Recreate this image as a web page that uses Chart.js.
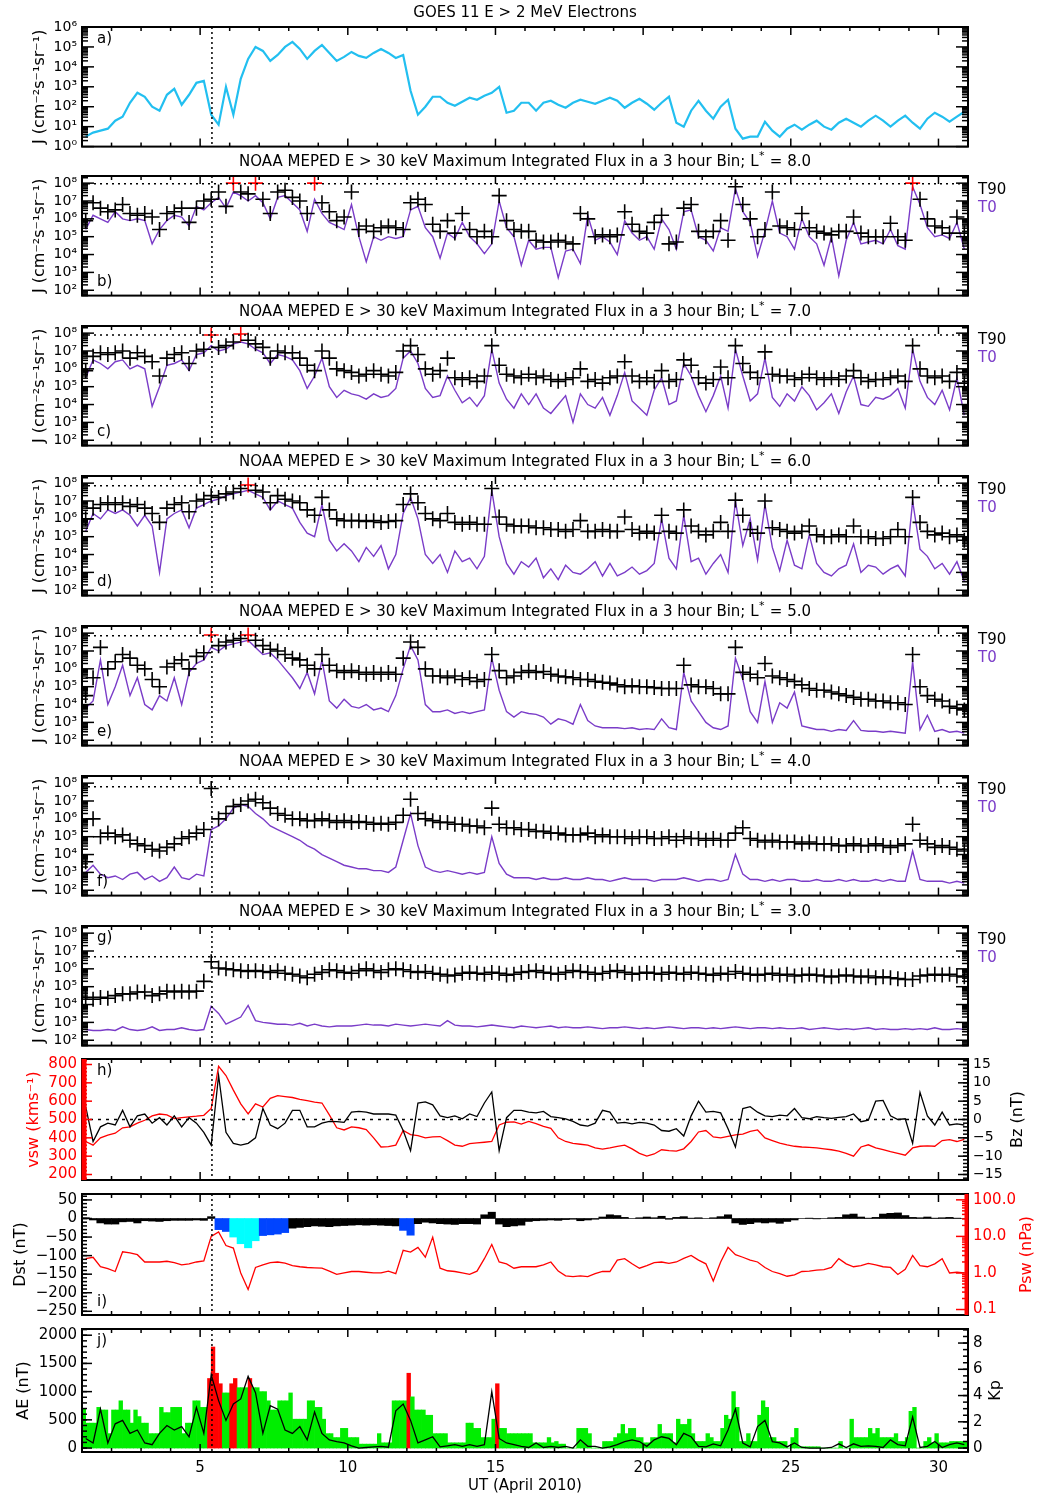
<!DOCTYPE html>
<html>
<head>
<meta charset="utf-8">
<title>GOES / NOAA MEPED electrons, April 2010</title>
<script src="https://cdn.jsdelivr.net/npm/chart.js@4.4.1/dist/chart.umd.min.js"></script>
<style>
  body { margin: 0; background: #fff; }
  #wrap { position: relative; width: 1044px; height: 1496px; }
  #wrap canvas { position: absolute; left: 0; }
</style>
</head>
<body>
<div id="wrap"></div>
<script>
// ---- values (6-hour samples, day 1.125 ... 30.875) ----
const sscDay = 5.4;
const xTickDays = [5, 10, 15, 20, 25, 30];

// GOES 11 >2 MeV, log10 flux
const goesLog = [
  0.5,0.7,0.8,0.9, 1.3,1.5,2.2,2.7, 2.5,2.0,1.8,2.6, 2.9,2.1,2.6,3.2, 3.3,1.6,1.1,3.0,
  1.6,3.4,4.4,5.0, 4.8,4.3,4.6,5.0, 5.25,4.9,4.4,4.8, 5.1,4.7,4.3,4.5, 4.75,4.55,4.45,4.7,
  4.9,4.7,4.45,4.6, 2.8,1.6,2.0,2.5, 2.5,2.2,2.05,2.25, 2.45,2.35,2.55,2.7, 3.0,1.7,1.8,2.2,
  2.2,1.8,2.2,2.3, 2.1,1.95,2.2,2.35, 2.25,2.15,2.3,2.45, 2.3,1.95,2.2,2.4, 2.15,1.85,2.2,2.5,
  1.2,1.0,1.8,2.3, 1.8,1.4,2.0,2.35, 0.9,0.4,0.5,0.5, 1.25,0.8,0.5,0.9, 1.1,0.85,1.1,1.3,
  1.0,0.85,1.2,1.4, 1.2,1.0,1.3,1.55, 1.3,1.0,1.3,1.55, 1.2,0.9,1.4,1.7, 1.5,1.25,1.5,1.75
];

// MEPED >30 keV, log10 flux: T90 (crosses) and T0 (line), per L*
const t90L8 = [
  5.9,6.9,6.6,6.4, 6.5,6.8,6.3,6.2, 6.3,6.1,5.4,6.3, 6.4,6.6,5.8,6.6, 7.0,7.1,7.5,6.7,
  8.0,7.5,7.4,8.0, 7.1,6.3,7.5,7.6, 7.2,7.0,6.3,8.0, 6.9,6.4,5.9,6.1, 7.5,5.4,5.6,5.3,
  5.5,5.6,5.5,5.4, 6.9,7.1,6.8,5.7, 5.3,5.9,5.2,6.3, 5.4,5.0,5.3,5.0, 7.3,5.9,5.4,5.3,
  5.3,4.8,4.7,4.7, 4.8,4.7,4.6,6.3, 6.0,5.0,5.1,5.0, 5.1,6.4,5.7,5.3, 5.2,5.8,6.2,4.6,
  4.7,6.6,6.8,5.3, 5.0,5.3,5.9,4.8, 7.8,6.8,6.0,5.0, 5.4,7.5,5.6,5.5, 5.4,6.3,5.5,5.3,
  5.2,5.1,5.3,5.3, 6.1,5.2,5.0,5.0, 5.0,5.75,5.0,4.8, 8.0,7.1,6.0,5.6, 5.5,5.2,6.1,5.2
];
const t0L8 = [
  5.4,6.2,6.0,5.8, 6.4,6.0,5.9,6.0, 5.9,4.6,5.4,5.9, 6.2,6.1,5.6,6.7, 6.5,6.9,7.2,6.6,
  7.5,7.3,7.0,7.3, 6.9,6.0,7.2,7.3, 6.9,6.5,5.3,7.1, 6.3,5.8,5.6,5.4, 6.8,5.0,3.6,5.0,
  4.8,5.0,4.9,5.0, 6.5,6.7,5.5,5.0, 3.8,5.2,4.9,5.8, 5.0,4.6,4.05,4.6, 7.0,5.5,5.0,3.4,
  4.8,4.3,4.4,4.4, 2.7,4.2,4.3,3.5, 6.2,4.8,5.0,4.7, 4.0,5.9,5.2,4.8, 5.0,4.3,6.0,5.4,
  4.3,6.4,6.5,5.0, 4.8,4.2,5.5,5.3, 7.7,6.4,5.8,3.9, 5.3,7.0,5.2,5.0, 4.3,6.0,5.0,4.6,
  3.4,5.0,2.8,4.8, 5.8,4.6,4.7,4.8, 4.6,5.4,4.5,4.3, 7.8,6.8,5.5,5.0, 5.1,4.9,5.8,4.3
];
const t90L7 = [
  5.9,6.7,6.9,6.8, 6.9,7.0,6.6,6.9, 6.7,6.4,5.6,6.6, 6.8,6.9,6.3,7.0, 7.1,7.9,7.2,7.3,
  7.5,7.95,7.6,7.4, 7.2,6.6,7.0,6.9, 6.9,6.6,6.2,5.9, 7.0,6.6,6.0,5.9, 5.8,5.6,5.7,5.9,
  5.7,5.6,5.8,7.0, 7.3,6.8,6.0,5.7, 5.9,6.6,5.5,5.4, 5.5,5.3,5.6,7.3, 6.2,5.7,5.6,5.5,
  5.7,5.5,5.6,5.4, 5.3,5.4,5.5,6.0, 5.3,5.4,5.2,5.5, 5.6,6.4,5.6,5.3, 5.5,5.3,5.9,5.3,
  5.4,6.5,6.2,5.5, 5.2,5.4,6.1,5.5, 7.3,6.3,5.8,5.5, 6.95,5.7,5.6,5.6, 5.4,5.5,5.7,5.5,
  5.4,5.5,5.4,5.6, 5.9,5.5,5.3,5.4, 5.4,5.5,5.6,5.3, 7.3,6.0,5.6,5.5, 5.6,5.3,5.8,5.2
];
const t0L7 = [
  5.5,6.5,6.3,6.0, 6.4,6.5,6.0,6.2, 6.0,3.9,5.0,6.2, 6.3,6.5,5.9,6.8, 6.9,7.3,7.0,7.1,
  7.4,7.5,7.4,7.1, 6.9,6.3,6.8,6.7, 6.5,5.9,4.9,5.6, 6.6,5.0,4.4,4.8, 4.6,4.5,4.3,4.6,
  4.4,4.5,4.9,6.6, 7.0,6.3,4.9,4.4, 4.5,5.6,4.8,4.1, 4.4,3.9,4.5,7.1, 5.2,4.3,3.8,4.6,
  4.0,4.6,3.8,3.5, 4.0,4.5,3.0,4.6, 4.0,3.8,4.4,3.4, 4.5,5.8,4.2,3.8, 3.4,4.8,5.5,4.0,
  4.2,6.3,5.6,4.5, 3.6,4.5,5.6,3.8, 7.1,5.6,4.2,4.6, 6.6,4.4,3.9,4.6, 4.2,5.0,4.5,3.7,
  4.1,4.6,3.5,4.7, 5.6,4.0,3.9,4.4, 4.3,4.5,4.9,3.8, 7.1,5.3,4.4,4.0, 4.8,3.7,5.5,3.4
];
const t90L6 = [
  6.0,6.6,6.8,6.9, 6.8,6.9,6.7,6.8, 6.6,6.3,5.8,6.6, 6.8,6.9,6.4,7.0, 7.1,7.3,7.2,7.4,
  7.5,7.7,7.9,7.6, 7.5,6.9,7.3,7.1, 7.0,6.9,6.5,6.2, 7.2,6.5,6.0,5.9, 5.9,5.9,5.85,5.9,
  5.8,5.85,5.9,6.8, 7.4,6.9,6.3,6.0, 5.9,6.3,5.8,5.7, 5.8,5.7,5.7,7.7, 6.1,5.7,5.6,5.6,
  5.6,5.5,5.5,5.4, 5.4,5.3,5.4,5.9, 5.3,5.3,5.4,5.3, 5.3,6.1,5.4,5.2, 5.3,5.2,6.2,5.3,
  5.2,6.5,5.6,5.3, 5.1,5.3,5.8,5.3, 7.05,6.2,5.4,5.2, 7.0,5.5,5.4,5.3, 5.2,5.3,5.6,5.1,
  5.0,5.0,5.1,5.0, 5.6,5.0,5.0,4.9, 4.9,5.0,5.4,5.0, 7.2,5.8,5.3,5.1, 5.2,5.0,5.1,4.8
];
const t0L6 = [
  5.3,6.3,6.0,6.5, 6.3,6.5,6.2,5.6, 6.2,5.6,3.0,6.0, 6.3,6.5,5.5,6.6, 6.8,7.0,7.1,7.3,
  7.4,7.5,7.6,7.4, 7.2,6.5,7.0,6.8, 6.6,5.8,5.2,5.0, 6.8,4.8,4.2,4.6, 4.2,3.6,4.4,3.9,
  4.5,3.2,4.0,6.3, 7.2,6.0,4.0,3.5, 4.0,3.0,4.2,3.6, 3.8,3.2,3.9,7.6, 5.0,3.5,2.9,3.6,
  3.3,3.8,2.7,3.2, 2.6,3.4,3.0,2.9, 3.2,3.6,2.8,3.5, 2.8,3.0,3.3,2.9, 3.1,3.5,6.0,3.8,
  3.2,6.2,3.6,3.8, 2.9,3.5,4.0,3.0, 7.0,4.5,6.0,3.7, 6.8,4.4,3.1,4.8, 3.4,3.2,5.1,3.5,
  3.0,2.8,3.2,3.4, 4.6,3.0,3.4,3.3, 2.9,3.2,3.4,2.8, 7.0,4.3,3.9,3.2, 3.5,2.9,3.6,2.5
];
const t90L5 = [
  4.5,5.5,7.2,6.0, 6.4,6.8,6.6,6.2, 6.0,5.4,5.0,6.1, 6.3,6.5,6.0,6.7, 6.9,7.9,7.3,7.5,
  7.6,7.7,7.9,7.6, 7.3,7.1,7.0,6.8, 6.6,6.5,6.2,6.0, 6.8,6.2,5.9,5.8, 5.9,5.8,5.7,5.8,
  5.7,5.8,5.7,6.6, 7.5,7.2,6.0,5.6, 5.6,5.5,5.6,5.4, 5.5,5.3,5.4,6.8, 5.9,5.5,5.6,5.8,
  5.9,5.8,5.85,5.7, 5.6,5.55,5.5,5.4, 5.4,5.3,5.25,5.2, 5.1,5.0,5.05,5.0, 5.0,4.95,4.9,4.9,
  4.9,6.2,5.1,5.0, 5.0,4.9,4.6,4.6, 7.2,5.8,5.7,5.5, 6.3,5.6,5.5,5.4, 5.3,5.1,4.9,4.8,
  4.8,4.7,4.6,4.5, 4.4,4.3,4.3,4.2, 4.2,4.1,4.1,4.0, 6.8,5.0,4.5,4.3, 4.2,3.9,3.8,3.7
];
const t0L5 = [
  3.8,4.2,6.5,4.0, 5.0,6.2,4.5,5.5, 4.0,3.7,4.5,4.2, 5.5,4.0,5.8,6.3, 6.5,7.2,7.0,7.3,
  7.4,7.5,7.6,7.2, 6.8,6.9,6.5,6.0, 5.5,4.9,5.8,4.6, 6.5,4.2,3.8,4.3, 3.9,3.8,4.0,3.7,
  3.8,3.6,4.5,6.0, 7.3,6.5,4.0,3.6, 3.6,3.7,3.5,3.6, 3.5,3.6,3.7,6.6, 4.8,3.6,3.3,3.6,
  3.5,3.45,3.3,2.9, 3.2,3.1,2.9,4.0, 3.1,2.8,2.7,2.7, 2.7,2.65,2.7,2.6, 2.65,2.6,3.2,2.7,
  2.6,5.8,4.2,3.6, 3.0,2.7,2.6,2.8, 6.6,5.4,3.6,3.0, 5.3,3.0,4.1,3.8, 4.7,2.8,2.7,2.6,
  2.6,2.5,2.6,2.55, 3.1,2.55,2.5,2.5, 2.45,2.5,2.45,2.4, 6.4,2.6,3.4,2.5, 2.6,2.45,2.5,2.4
];
const t90L4 = [
  3.6,6.0,5.0,5.2, 5.0,5.1,4.8,4.6, 4.5,4.3,4.2,4.4, 4.6,4.9,5.0,5.2, 5.4,7.7,6.0,6.3,
  6.7,6.8,7.0,7.1, 6.9,6.6,6.3,6.2, 6.0,6.0,5.9,5.9, 6.0,5.9,5.8,5.9, 5.8,5.85,5.8,5.7,
  5.75,5.7,5.8,6.2, 7.1,6.3,6.0,5.9, 5.8,5.8,5.7,5.7, 5.6,5.6,5.5,6.6, 5.7,5.5,5.5,5.4,
  5.4,5.3,5.3,5.2, 5.2,5.1,5.1,5.1, 5.2,5.0,5.1,5.0, 5.0,5.0,4.9,5.0, 5.0,4.9,4.9,5.0,
  4.8,5.0,4.9,4.9, 4.8,4.9,4.8,4.8, 5.2,5.5,4.9,4.8, 4.7,4.8,4.7,4.7, 4.7,4.6,4.7,4.6,
  4.6,4.6,4.5,4.5, 4.6,4.5,4.5,4.6, 4.5,4.4,4.5,4.6, 5.7,4.8,4.6,4.4, 4.5,4.4,4.3,4.2
];
const t0L4 = [
  3.0,3.4,2.9,2.7, 2.8,2.6,2.9,3.0, 2.6,2.8,2.5,2.7, 3.3,2.7,2.6,2.9, 2.8,5.4,5.6,6.0,
  6.6,6.8,6.7,6.3, 6.0,5.6,5.4,5.2, 5.0,4.8,4.5,4.3, 4.0,3.8,3.6,3.4, 3.3,3.2,3.2,3.1,
  3.1,3.0,3.3,4.8, 6.3,4.5,3.3,3.1, 3.0,3.1,3.0,2.9, 3.0,2.9,3.0,5.0, 3.5,2.9,2.7,2.7,
  2.7,2.6,2.7,2.6, 2.6,2.7,2.6,2.6, 2.7,2.6,2.6,2.5, 2.6,2.7,2.6,2.6, 2.6,2.5,2.6,2.6,
  2.6,2.7,2.6,2.5, 2.6,2.6,2.5,2.6, 4.0,2.9,2.6,2.6, 2.5,2.6,2.5,2.6, 2.6,2.5,2.5,2.6,
  2.5,2.5,2.6,2.5, 2.6,2.5,2.5,2.6, 2.5,2.6,2.5,2.5, 4.2,2.6,2.5,2.5, 2.5,2.4,2.5,2.4
];
const t90L3 = [
  4.4,4.3,4.4,4.35, 4.5,4.6,4.6,4.7, 4.7,4.5,4.6,4.75, 4.7,4.75,4.7,4.75, 5.3,6.4,6.05,6.0,
  5.95,5.9,5.85,5.9, 5.85,5.8,5.9,5.75, 5.7,5.6,5.5,5.7, 5.8,5.95,5.9,5.8, 5.75,5.9,6.0,5.9,
  5.8,5.95,6.0,5.95, 5.85,5.8,5.85,5.75, 5.7,5.6,5.65,5.75, 5.8,5.75,5.7,5.8, 5.75,5.65,5.7,5.8,
  5.85,5.9,5.8,5.75, 5.7,5.8,5.9,5.85, 5.8,5.7,5.75,5.85, 5.9,5.8,5.7,5.75, 5.8,5.75,5.7,5.8,
  5.75,5.7,5.8,5.75, 5.7,5.65,5.75,5.7, 5.85,5.75,5.7,5.65, 5.7,5.75,5.65,5.7, 5.6,5.65,5.7,5.65,
  5.6,5.55,5.6,5.65, 5.6,5.55,5.6,5.5, 5.55,5.5,5.45,5.4, 5.4,5.6,5.65,5.7, 5.65,5.7,5.6,5.55
];
const t0L3 = [
  2.6,2.55,2.55,2.6, 2.55,2.75,2.6,2.55, 2.6,2.75,2.55,2.6, 2.6,2.7,2.6,2.55, 2.6,3.9,3.5,2.9,
  3.1,3.3,3.95,3.1, 3.0,2.95,2.9,2.9, 2.85,2.95,2.8,2.9, 2.8,2.75,2.8,2.8, 2.8,2.85,2.9,2.85,
  2.85,2.8,2.9,2.85, 2.8,2.85,2.9,2.85, 2.8,3.1,2.85,2.8, 2.8,2.75,2.8,2.85, 2.8,2.75,2.7,2.8,
  2.75,2.7,2.75,2.8, 2.7,2.75,2.7,2.7, 2.75,2.7,2.65,2.7, 2.7,2.75,2.7,2.65, 2.7,2.65,2.7,2.75,
  2.7,2.65,2.7,2.7, 2.65,2.7,2.65,2.7, 2.75,2.7,2.65,2.7, 2.7,2.65,2.7,2.65, 2.65,2.7,2.6,2.65,
  2.7,2.65,2.6,2.65, 2.6,2.65,2.7,2.6, 2.65,2.6,2.6,2.65, 2.6,2.65,2.6,2.7, 2.6,2.6,2.65,2.6
];
// saturation level (log10) shown as the dotted line, per L* = 8,7,6,5,4,3
const satLog = [7.96, 7.9, 7.85, 7.85, 7.8, 6.68];

// solar wind speed (km/s) and IMF Bz (nT)
const vswKms = [
  380,360,400,415, 425,455,460,480, 496,520,530,525, 505,510,514,518, 523,560,790,740,
  660,585,530,585, 568,615,630,625, 620,610,603,595, 590,525,455,443, 460,455,445,400,
  350,352,360,440, 418,412,400,405, 407,385,360,354, 368,372,376,380, 470,485,487,475,
  490,478,462,452, 400,380,370,365, 360,345,338,345, 354,360,340,315, 300,312,335,330,
  327,340,380,432, 440,405,400,408, 416,420,435,443, 400,385,371,362, 354,350,348,345,
  340,335,327,315, 300,350,362,345, 336,325,315,305, 345,354,356,354, 385,390,380,392
];
const bzNT = [
  3.5,-6.0,-2.0,-1.0, -1.5,2.5,-2.0,1.0, 1.5,-1.0,0.5,-1.5, 1.0,-2.0,0.5,-1.0, -3.5,-7.0,12.0,-3.5,
  -6.5,-7.0,-6.5,-5.0, 3.0,-1.5,-2.5,-1.0, 2.5,2.5,-2.0,-2.0, -1.0,-0.5,-0.6,-0.8, 2.0,2.2,2.0,1.5,
  1.5,1.5,1.2,-3.0, -8.5,4.5,4.8,4.0, 1.0,0.5,1.0,0.2, 1.5,0.8,4.5,7.5, -8.5,0.5,2.5,2.5,
  2.0,1.8,2.2,0.8, 0.5,0.2,-0.5,-1.5, -1.8,-1.0,2.5,2.0, -1.0,-0.8,-1.2,-0.8, -1.0,-1.5,-3.0,-3.2,
  -2.5,-4.5,1.0,5.0, 2.0,2.2,1.8,-2.5, -7.5,3.0,3.5,2.0, 1.0,0.8,1.2,1.0, 3.0,0.5,0.2,0.8,
  0.5,0.3,0.6,0.8, 1.5,-0.6,-0.2,5.0, 5.2,1.0,0.0,0.2, -6.5,7.4,1.0,-1.5, 2.0,-1.5,-1.2,-1.5
];

// Dst (nT) and solar wind dynamic pressure (log10 nPa)
const dstNT = [
  2,-4,-12,-15, -15,-9,-8,-12, -6,-7,-8,-6, -5,-5,-5,-4, -5,5,-30,-35,
  -50,-68,-79,-60, -46,-44,-42,-38, -26,-24,-22,-20, -21,-22,-20,-19, -18,-17,-18,-17,
  -18,-19,-20,-32, -45,-14,-10,-12, -14,-15,-16,-14, -14,-15,10,17, -15,-22,-20,-18,
  -8,-6,-5,-4, -5,-3,-2,-6, -4,-2,4,10, 8,3,0,2, 4,2,6,-2,
  3,5,1,2, 0,2,5,10, -12,-16,-14,-10, -12,-10,-13,-8, -4,0,1,-1,
  0,2,3,10, 12,4,1,3, 12,14,15,8, 3,2,4,1, 2,3,1,0
];
const stormBlueDays = [[5.5, 6.0], [7.0, 8.0], [11.75, 12.25]];
const stormCyanDays = [[6.0, 7.0]];
const pswLog = [
  0.39,0.43,0.17,0.12, 0.04,0.58,0.55,0.50, 0.30,0.30,0.30,0.32, 0.28,0.22,0.25,0.30, 0.33,1.00,1.12,0.75,
  0.68,0.00,-0.45,0.15, 0.22,0.28,0.30,0.27, 0.20,0.17,0.15,0.14, 0.13,0.05,-0.04,0.00, 0.04,0.04,0.02,0.00,
  0.00,0.05,-0.02,0.62, 0.57,0.70,0.43,0.98, 0.13,0.06,0.04,0.00, -0.04,0.05,0.39,0.78, 0.30,0.25,0.13,0.17,
  0.17,0.17,0.22,0.30, 0.05,-0.08,-0.10,-0.08, -0.10,-0.02,0.04,0.04, 0.35,0.39,0.25,0.13, 0.20,0.28,0.30,0.26,
  0.30,0.40,0.48,0.35, 0.25,-0.22,0.30,0.70, 0.50,0.43,0.35,0.30, 0.15,0.04,-0.02,-0.09, -0.05,0.04,0.05,0.08,
  0.09,0.15,0.39,0.25, 0.17,0.20,0.26,0.22, 0.17,0.15,-0.04,0.10, 0.48,0.20,0.17,0.25, 0.39,0.00,0.02,0.00
];

// AE (nT, 6-hour samples) and Kp (3-hour bins)
const aeNT = [
  170,90,690,90, 430,490,260,320, 90,60,260,400, 320,380,200,720, 260,1300,840,490,
  780,870,1270,980, 260,750,690,320, 260,380,145,640, 260,145,115,90, 40,0,10,20,
  30,15,660,780, 490,90,145,200, 20,40,60,30, 60,30,60,1000, 170,90,60,30,
  10,90,10,30, 10,30,0,145, 30,30,0,20, 60,115,145,115, 30,145,200,170,
  60,260,200,30, 20,75,40,320, 690,90,20,380, 490,115,90,20, 90,10,0,0,
  0,10,75,10, 75,30,40,30, 10,145,60,40, 550,10,30,115, 10,60,90,60
];
const kpIndex = [
  3.0,1.9,1.9,1.9,3.1,2.9,2.9,1.1,  2.9,2.9,3.6,2.9,2.9,1.9,2.9,2.4,  1.9,1.9,1.1,1.1,1.1,3.1,2.7,2.7,
  3.1,3.1,3.1,1.1,1.9,1.9,3.6,3.6,  3.1,3.1,5.3,7.7,5.7,4.9,4.2,4.2,  4.9,5.3,4.6,4.6,4.6,5.3,4.6,4.6,
  4.3,4.3,3.6,2.9,2.9,3.6,3.6,3.6,  4.2,2.2,2.2,2.2,2.2,3.6,3.6,3.1,  3.1,2.2,1.1,1.1,0.8,0.8,1.5,1.5,
  0.8,0.8,0.8,0.3,0.3,0.3,0.3,0.3,  1.1,0.4,0.4,0.4,3.6,3.6,3.6,3.6,  5.7,3.9,2.9,2.9,2.9,2.5,2.5,1.1,
  1.1,1.1,1.1,0.4,0.4,0.4,0.4,0.4,  1.9,1.9,1.5,1.5,0.8,0.8,0.8,2.2,  4.9,1.5,1.5,1.1,1.1,1.1,1.1,1.1,
  1.1,1.1,0.4,0.4,0.4,0.4,0.8,0.4,  0.5,0.3,0.3,0,0,0,1.5,1.5,        1.5,1.1,0,0,0,0.5,0.5,0.5,
  0.8,1.1,1.8,1.1,1.5,1.5,0.8,0.8,  0.4,0.4,0.8,0.8,1.8,1.1,1.1,1.1,  0.4,2.2,1.8,1.8,2.2,1.1,0.5,0.5,
  0.5,1.1,0.8,0.5,0.5,1.5,2.5,2.2,  4.3,3.1,0.5,0.5,1.1,0.5,0.5,2.5,  3.6,3.1,0.8,0.8,0.5,0.5,0.5,0,
  0.8,1.5,0.1,0.1,0.1,0.1,0.1,0.1,  0,0,0,0,0,0.5,0,0,                2.2,0.8,0.8,0.8,0.8,1.5,1.1,1.5,
  0.8,0.8,0.8,0.8,1.1,0.5,0.5,0.8,  2.8,3.1,0,0,0.5,0.8,0.4,1.1,      0.4,0.4,0.4,0.5,0.5,0.5,0.5,0.5
];

// tick labels
const goesTickExps = [0, 1, 2, 3, 4, 5, 6];
const fluxTickExps = [2, 3, 4, 5, 6, 7, 8];
const vswTicks = [200, 300, 400, 500, 600, 700, 800];
const bzTicks = [-15, -10, -5, 0, 5, 10, 15];
const dstTicks = [-250, -200, -150, -100, -50, 0, 50];
const pswTicks = [0.1, 1, 10, 100];
const aeTicks = [0, 500, 1000, 1500, 2000];
const kpTicks = [0, 2, 4, 6, 8];

// ---- drawing ----
const FONT = '"DejaVu Sans", sans-serif';
Chart.defaults.font.family = FONT;
Chart.defaults.font.size = 14;
Chart.defaults.color = '#000';

const RED = '#ff0000', PURPLE = '#7a3cc8', SKY = '#22bff0', GREEN = '#00ee00', BLUE = '#0044ff', CYAN = '#00ffff';
const J_LABEL = 'J (cm\u207B\u00B2s\u207B\u00B9sr\u207B\u00B9)';

const t6h = Array.from({length: 120}, (_, i) => 1.125 + i / 4);
const t3h = Array.from({length: 240}, (_, i) => 1.0625 + i / 8);
const exp10 = v => Math.pow(10, v);
const pts = (ys, xs = t6h, f = v => v) => ys.map((y, i) => ({x: xs[i], y: f(y)}));
const sup = n => String(n).replace(/[-0-9]/g, c => '\u207B\u2070\u00B9\u00B2\u00B3\u2074\u2075\u2076\u2077\u2078\u2079'['-0123456789'.indexOf(c)]);
const minus = v => v < 0 ? '\u2212' + (-v) : String(v);
const steps = (a, b, s) => { const r = []; for (let v = a; v <= b + 1e-9; v += s) r.push(+v.toFixed(6)); return r; };
const logMinor = (e0, e1) => { const r = []; for (let e = e0; e <= e1; e++) for (let k = 2; k <= 9; k++) r.push(k * Math.pow(10, e)); return r; };
const inDays = (d, list) => list.some(([a, b]) => d >= a && d < b);

function logTicks(axis, e0, e1, color) {
  const major = steps(e0, e1, 1).map(exp10), minor = logMinor(e0 - 1, e1);
  return ['left', 'right'].map(side => ({axis, side, major, minor, majLen: 12, minLen: 6, color}));
}
function linTicks(axis, side, major, minorStep, color) {
  return {axis, side, major, minor: steps(major[0] - minorStep * 10, major[major.length - 1] + minorStep * 10, minorStep), majLen: 10, minLen: 5, color};
}

const frame = {
  id: 'frame',
  afterDraw(chart, args, o) {
    const {ctx, chartArea: a, scales} = chart;
    const X = scales.x;
    const seg = (x1, y1, x2, y2) => { ctx.beginPath(); ctx.moveTo(x1, y1); ctx.lineTo(x2, y2); ctx.stroke(); };
    ctx.save();
    ctx.strokeStyle = '#000';
    ctx.lineWidth = 1.5;
    ctx.setLineDash([2, 3]);
    const xs = X.getPixelForValue(sscDay);
    seg(xs, a.top, xs, a.bottom);
    (o.hlines || []).forEach(h => {
      ctx.setLineDash(h.dash);
      const y = scales[h.axis].getPixelForValue(h.value);
      seg(a.left, y, a.right, y);
    });
    ctx.setLineDash([]);
    for (let d = 1; d <= 31; d++) {
      const x = X.getPixelForValue(d), L = xTickDays.includes(d) ? 8 : 4;
      seg(x, a.top, x, a.top + L);
      seg(x, a.bottom, x, a.bottom - L);
    }
    (o.yTicks || []).forEach(t => {
      const s = scales[t.axis];
      const x0 = t.side === 'left' ? a.left : a.right, dir = t.side === 'left' ? 1 : -1;
      ctx.strokeStyle = t.color || '#000';
      [[t.major, t.majLen], [t.minor, t.minLen]].forEach(([vals, L]) => vals.forEach(v => {
        const y = s.getPixelForValue(v);
        if (y >= a.top - 0.5 && y <= a.bottom + 0.5) seg(x0, y, x0 + dir * L, y);
      }));
    });
    ctx.strokeStyle = '#000';
    ctx.lineWidth = 2;
    ctx.strokeRect(a.left, a.top, a.right - a.left, a.bottom - a.top);
    if (o.leftBar) { ctx.strokeStyle = o.leftBar; ctx.lineWidth = 5; seg(a.left + 2, a.top, a.left + 2, a.bottom); }
    if (o.rightBar) { ctx.strokeStyle = o.rightBar; ctx.lineWidth = 4; seg(a.right - 1.5, a.top, a.right - 1.5, a.bottom); }

    ctx.textBaseline = 'middle';
    ctx.fillStyle = '#000';
    if (o.title) {
      ctx.font = '15px ' + FONT;
      const tail = o.lstar ? ' = ' + o.lstar : '';
      const w1 = ctx.measureText(o.title).width, w3 = ctx.measureText(tail).width;
      ctx.font = '11px ' + FONT;
      const w2 = o.lstar ? ctx.measureText('*').width + 1 : 0;
      let x = (a.left + a.right) / 2 - (w1 + w2 + w3) / 2;
      const y = a.top - 14;
      ctx.textAlign = 'left';
      ctx.font = '15px ' + FONT;
      ctx.fillText(o.title, x, y);
      x += w1;
      if (o.lstar) {
        ctx.font = '11px ' + FONT;
        ctx.fillText('*', x + 0.5, y - 6);
        ctx.font = '15px ' + FONT;
        ctx.fillText(tail, x + w2, y);
      }
    }
    if (o.tag) {
      ctx.font = '15px ' + FONT;
      ctx.textAlign = 'left';
      ctx.fillText(o.tag, a.left + 15, o.tagAt === 'top' ? a.top + 12 : a.bottom - 13);
    }
    (o.vtitles || []).forEach(t => {
      ctx.save();
      ctx.translate(t.x, (a.top + a.bottom) / 2);
      ctx.rotate(-Math.PI / 2);
      ctx.textAlign = 'center';
      ctx.fillStyle = t.color || '#000';
      ctx.font = (t.size || 16) + 'px ' + FONT;
      ctx.fillText(t.text, 0, 0);
      ctx.restore();
    });
    if (o.legend) {
      ctx.font = '15px ' + FONT;
      ctx.textAlign = 'left';
      ctx.fillStyle = '#000';
      ctx.fillText('T90', a.right + 10, a.top + 14);
      ctx.fillStyle = PURPLE;
      ctx.fillText('T0', a.right + 10, a.top + 32);
    }
    if (o.xTitle) {
      ctx.font = '15px ' + FONT;
      ctx.textAlign = 'center';
      ctx.fillStyle = '#000';
      ctx.fillText(o.xTitle, (a.left + a.right) / 2, a.bottom + 34);
    }
    ctx.restore();
  }
};
Chart.register(frame);

const xHidden = {type: 'linear', min: 1, max: 31, offset: false, display: false};
const xShown = {
  type: 'linear', min: 1, max: 31, offset: false,
  afterBuildTicks: s => { s.ticks = xTickDays.map(v => ({value: v})); },
  afterFit: s => { s.height = 44; },
  grid: {display: false, drawTicks: false}, border: {display: false},
  ticks: {autoSkip: false, maxRotation: 0, padding: 7, font: {size: 15}, color: '#000'}
};

function yAxis(o) {
  const right = o.position === 'right';
  return {
    type: o.type || 'linear', position: o.position || 'left', min: o.min, max: o.max,
    afterBuildTicks: s => { s.ticks = o.ticks.map(v => ({value: v})); },
    afterFit: s => { s.width = right ? 76 : 82; },
    grid: {display: false, drawTicks: false}, border: {display: false},
    ticks: {autoSkip: false, padding: 5, color: o.color || '#000', font: {size: o.size || 15}, callback: o.label || (v => minus(v))}
  };
}
const powLabel = v => '10' + sup(Math.round(Math.log10(v)));

function options(scales, frameOpts, padRight) {
  return {
    animation: false, responsive: false, devicePixelRatio: 1, events: [],
    layout: {padding: {left: 0, right: padRight || 0, top: 0, bottom: 0}},
    plugins: {legend: {display: false}, tooltip: {enabled: false}, frame: frameOpts},
    scales
  };
}

function addChart(box, cfg, withX) {
  const top = Math.max(0, box[0] - 30);
  const bottom = withX ? 1496 : box[1] + 12;
  const cv = document.createElement('canvas');
  cv.width = 1044;
  cv.height = bottom - top;
  cv.style.top = top + 'px';
  document.getElementById('wrap').appendChild(cv);
  const p = cfg.options.layout.padding;
  p.top = box[0] - top;
  p.bottom = withX ? 0 : bottom - box[1];
  return new Chart(cv, cfg);
}

// a) GOES
addChart([27, 148], {
  type: 'line',
  data: {datasets: [{data: pts(goesLog, t6h, exp10), borderColor: SKY, borderWidth: 2.2, pointRadius: 0}]},
  options: options(
    {x: xHidden, y: yAxis({type: 'logarithmic', min: 1, max: 1e6, ticks: goesTickExps.map(exp10), label: powLabel, size: 14})},
    {title: 'GOES 11 E > 2 MeV Electrons', tag: 'a)', tagAt: 'top', vtitles: [{text: J_LABEL, x: 40}], yTicks: logTicks('y', 0, 6)},
    76)
});

// b)–g) MEPED
const meped = [
  {box: [176, 297], l: '8.0', tag: 'b)', at: 'bottom', t90: t90L8, t0: t0L8, sat: satLog[0]},
  {box: [326, 447], l: '7.0', tag: 'c)', at: 'bottom', t90: t90L7, t0: t0L7, sat: satLog[1]},
  {box: [476, 597], l: '6.0', tag: 'd)', at: 'bottom', t90: t90L6, t0: t0L6, sat: satLog[2]},
  {box: [626, 747], l: '5.0', tag: 'e)', at: 'bottom', t90: t90L5, t0: t0L5, sat: satLog[3]},
  {box: [776, 897], l: '4.0', tag: 'f)', at: 'bottom', t90: t90L4, t0: t0L4, sat: satLog[4]},
  {box: [926, 1047], l: '3.0', tag: 'g)', at: 'top', t90: t90L3, t0: t0L3, sat: satLog[5]}
];
meped.forEach(p => {
  addChart(p.box, {
    type: 'line',
    data: {datasets: [
      {data: pts(p.t0, t6h, exp10), borderColor: PURPLE, borderWidth: 1.4, pointRadius: 0, order: 1},
      {data: pts(p.t90, t6h, exp10), showLine: false, pointStyle: 'cross', pointRadius: 7.5, pointBorderWidth: 1.6,
       pointBorderColor: c => (c.raw && Math.log10(c.raw.y) >= p.sat - 0.07) ? RED : '#000', order: 0}
    ]},
    options: options(
      {x: xHidden, y: yAxis({type: 'logarithmic', min: exp10(1.7), max: exp10(8.4), ticks: fluxTickExps.map(exp10), label: powLabel, size: 14})},
      {title: 'NOAA MEPED E > 30 keV Maximum Integrated Flux in a 3 hour Bin; L', lstar: p.l, tag: p.tag, tagAt: p.at,
       vtitles: [{text: J_LABEL, x: 40}], legend: true,
       hlines: [{axis: 'y', value: exp10(p.sat), dash: [2, 4]}], yTicks: logTicks('y', 2, 8)},
      76)
  });
});

// h) Vsw and Bz
addChart([1059, 1182], {
  type: 'line',
  data: {datasets: [
    {data: pts(vswKms), yAxisID: 'y', borderColor: RED, borderWidth: 1.3, pointRadius: 0, order: 1},
    {data: pts(bzNT), yAxisID: 'y2', borderColor: '#000', borderWidth: 1.3, pointRadius: 0, order: 0}
  ]},
  options: options(
    {x: xHidden, y: yAxis({min: 170, max: 830, ticks: vswTicks, color: RED}), y2: yAxis({position: 'right', min: -16.5, max: 16.5, ticks: bzTicks, size: 14})},
    {tag: 'h)', tagAt: 'top', leftBar: RED,
     vtitles: [{text: 'vsw (kms\u207B\u00B9)', x: 34, color: RED}, {text: 'Bz (nT)', x: 1018}],
     hlines: [{axis: 'y2', value: 0, dash: [3, 5]}],
     yTicks: [linTicks('y', 'left', vswTicks, 20, RED), linTicks('y2', 'right', bzTicks, 1)]})
});

// i) Dst and Psw
addChart([1194, 1317], {
  type: 'bar',
  data: {datasets: [
    {type: 'bar', data: pts(dstNT), yAxisID: 'y', barPercentage: 1, categoryPercentage: 1, borderWidth: 0, order: 1,
     backgroundColor: c => !c.raw ? '#000' : inDays(c.raw.x, stormCyanDays) ? CYAN : inDays(c.raw.x, stormBlueDays) ? BLUE : '#000'},
    {type: 'line', data: pts(pswLog, t6h, exp10), yAxisID: 'y2', borderColor: RED, borderWidth: 1.3, pointRadius: 0, order: 0}
  ]},
  options: options(
    {x: xHidden, y: yAxis({min: -260, max: 66, ticks: dstTicks}),
     y2: yAxis({type: 'logarithmic', position: 'right', min: exp10(-1.15), max: exp10(2.16), ticks: pswTicks, color: RED, label: v => v.toFixed(1)})},
    {tag: 'i)', tagAt: 'bottom', rightBar: RED,
     vtitles: [{text: 'Dst (nT)', x: 21}, {text: 'Psw (nPa)', x: 1027, color: RED}],
     yTicks: [linTicks('y', 'left', dstTicks, 10), {axis: 'y2', side: 'right', major: pswTicks, minor: logMinor(-1, 1), majLen: 12, minLen: 6, color: RED}]})
});

// j) AE and Kp
addChart([1329, 1452], {
  type: 'bar',
  data: {datasets: [
    {type: 'line', data: pts(aeNT), yAxisID: 'y', borderColor: '#000', borderWidth: 1.3, pointRadius: 0, order: 0},
    {type: 'bar', data: pts(kpIndex, t3h), yAxisID: 'y2', barPercentage: 1, categoryPercentage: 1, borderWidth: 0, order: 1,
     backgroundColor: c => (c.raw && c.raw.y >= 4.8) ? RED : GREEN}
  ]},
  options: options(
    {x: xShown, y: yAxis({min: -70, max: 2110, ticks: aeTicks}), y2: yAxis({position: 'right', min: -0.3, max: 9.07, ticks: kpTicks})},
    {tag: 'j)', tagAt: 'top', xTitle: 'UT (April 2010)',
     vtitles: [{text: 'AE (nT)', x: 24}, {text: 'Kp', x: 996}],
     yTicks: [linTicks('y', 'left', aeTicks, 100), linTicks('y2', 'right', kpTicks, 0.5)]}),
}, true);
</script>
</body>
</html>
